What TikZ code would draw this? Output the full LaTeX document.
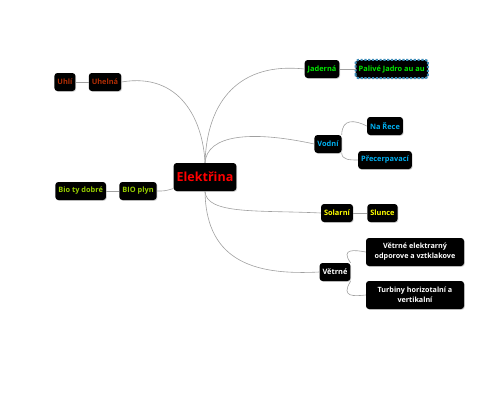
\documentclass[tikz,border=0pt]{standalone}
\usepackage{fontspec}
\setmainfont{Open Sans}[BoldFont={Open Sans Bold}]
\usetikzlibrary{positioning, shadows}

\definecolor{uhelcol}{RGB}{175,45,5}
\definecolor{jadcol}{RGB}{0,230,0}
\definecolor{vodcol}{RGB}{0,175,240}
\definecolor{solcol}{RGB}{255,255,0}
\definecolor{biocol}{RGB}{150,205,0}
\definecolor{dashcol}{RGB}{60,140,185}
\definecolor{linkcol}{RGB}{160,160,160}

\begin{document}
\begin{tikzpicture}[
			x=1pt, y=-1pt,
			% Definizione dello stile per i blocchi
			topic/.style={fill=black, rounded corners=3pt, font=\bfseries\fontsize{7.4}{9}\selectfont, inner xsep=3pt, inner ysep=2pt, minimum height=18pt, align=center,
				drop shadow={opacity=0.35, shadow xshift=0.8pt, shadow yshift=-0.8pt}},
			central/.style={topic, font=\bfseries\fontsize{12.5}{14}\selectfont, text=red, minimum height=28pt, inner xsep=3pt},
			wide/.style={topic, text=white, minimum width=98pt, minimum height=28pt, font=\bfseries\fontsize{7.2}{10}\selectfont},
			% Definizione dello stile per i collegamenti
			link/.style={draw=linkcol, line width=0.6pt}
			]
			\useasboundingbox (0,0) rectangle (495,400);
			
			% --- NODO CENTRALE ---
			\node [central] (elektrina) at (205,177) {Elektřina};
			
			% --- RAMO SINISTRO ---
			\node [topic, text=uhelcol] (uhelna) at (105,82) {Uhelná};
			\node [topic, text=uhelcol, left=13pt of uhelna] (uhli) {Uhlí};
			\node [topic, text=biocol] (bioplyn) at (138,191) {BIO plyn};
			\node [topic, text=biocol, left=13pt of bioplyn] (biodobre) {Bio ty dobré};
			
			% --- RAMO DESTRO ---
			\node [topic, text=jadcol] (jaderna) at (322,69) {Jaderná};
			\node [topic, text=jadcol, right=16pt of jaderna] (palive) {Palivé Jadro au au};
			\draw [dashcol, dash pattern=on 2.2pt off 1.6pt, line width=2pt, rounded corners=3pt]
				(palive.south west) rectangle (palive.north east);
			\node [topic, text=vodcol] (vodni) at (328,144) {Vodní};
			\node [topic, text=vodcol] (nareche) at (385,126) {Na Řece};
			\node [topic, text=vodcol] (precerp) at (385,160) {Přecerpavací};
			\node [topic, text=solcol] (solarni) at (337,213) {Solarní};
			\node [topic, text=solcol, right=14pt of solarni] (slunce) {Slunce};
			\node [topic, text=white] (vetrne) at (335,272) {Větrné};
			\node [wide] (elektrarny) at (415,252) {Větrné elektrarný\\odporove a vztklakove};
			\node [wide] (turbiny) at (415,295) {Turbiny horizotalní a\\vertikalní};
			
			% --- COLLEGAMENTI ---
			\draw [link] (uhelna.east) .. controls (180,72) and (203,120) .. (elektrina.north);
			\draw [link] (elektrina.north) .. controls (207,100) and (240,62) .. (jaderna.west);
			\draw [link] (elektrina.north) .. controls (207,135) and (250,130) .. (vodni.west);
			\draw [link] (bioplyn.east) .. controls (165,191) .. (elektrina.200);
			\draw [link] (elektrina.south) .. controls (206,215) and (260,210) .. (solarni.west);
			\draw [link] (elektrina.south) .. controls (206,265) and (260,275) .. (vetrne.west);
			
			\draw [link] (uhli) -- (uhelna);
			\draw [link] (biodobre) -- (bioplyn);
			\draw [link] (jaderna) -- (palive);
			\draw [link] (solarni) -- (slunce);
			\draw [link] (vodni.north east) .. controls (342,118) and (355,120) .. (nareche.west);
			\draw [link] (vodni.south east) .. controls (342,160) and (350,160) .. (precerp.west);
			\draw [link] (vetrne.north east) .. controls (340,248) and (355,250) .. (elektrarny.west);
			\draw [link] (vetrne.south east) .. controls (340,298) and (355,296) .. (turbiny.west);
			
		\end{tikzpicture}
\end{document}
